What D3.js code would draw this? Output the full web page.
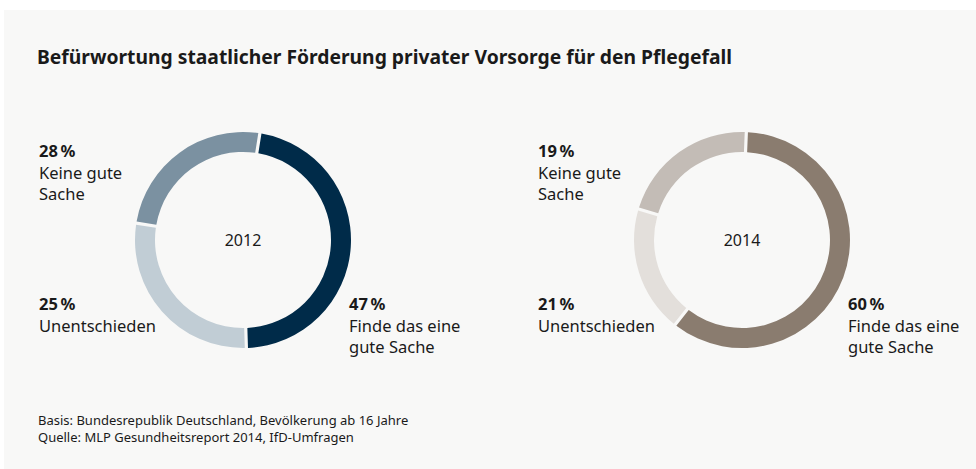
<!DOCTYPE html>
<html>
<head>
<meta charset="utf-8">
<script src="https://cdn.jsdelivr.net/npm/d3@7"></script>
<style>
  body { margin: 0; background: #ffffff; }
  svg { display: block; font-family: "Noto Sans", sans-serif; }
</style>
</head>
<body>
<div id="chart"></div>
<script>
// data
var years = ["2012", "2014"];
var categories = ["Finde das eine gute Sache", "Keine gute Sache", "Unentschieden"];
var values2012 = [47, 28, 25];
var values2014 = [60, 19, 21];
var labelLines = [["Finde das eine", "gute Sache"], ["Keine gute", "Sache"], ["Unentschieden"]];
var colors2012 = ["#002b49", "#c1cdd5", "#7b91a1"];
var colors2014 = ["#8a7c6f", "#e3dfdb", "#c3bcb6"];

var title = "Befürwortung staatlicher Förderung privater Vorsorge für den Pflegefall";
var notes = ["Basis: Bundesrepublik Deutschland, Bevölkerung ab 16 Jahre",
             "Quelle: MLP Gesundheitsreport 2014, IfD-Umfragen"];

var svgWidth = 976;
var svgHeight = 469;

var svg = d3.select("#chart")
    .append("svg")
    .attr("width", svgWidth)
    .attr("height", svgHeight);

// grey panel
svg.append("rect")
    .attr("x", 4)
    .attr("y", 10)
    .attr("width", svgWidth - 4)
    .attr("height", svgHeight - 10)
    .attr("fill", "#f8f8f7");

svg.append("text")
    .attr("x", 37)
    .attr("y", 64)
    .style("font-size", "19.3px")
    .style("font-weight", "bold")
    .attr("fill", "#1a1a1a")
    .text(title);

// one donut per year
var charts = [
    { year: years[0], values: values2012, colors: colors2012, cx: 243, rot: 9 },
    { year: years[1], values: values2014, colors: colors2014, cx: 742, rot: 2.3 }
];
var cy = 240;
var outerR = 108;
var innerR = 88;

var arc = d3.arc()
    .innerRadius(innerR)
    .outerRadius(outerR)
    .padAngle(3.2 / 98)
    .padRadius(98);

charts.forEach(function(c) {
    var start = c.rot * Math.PI / 180;
    var pie = d3.pie()
        .sort(null)
        .startAngle(start)
        .endAngle(start + 2 * Math.PI);

    var g = svg.append("g")
        .attr("transform", "translate(" + c.cx + "," + cy + ")");

    g.selectAll("path")
        .data(pie(c.values))
        .enter()
        .append("path")
        .attr("d", arc)
        .attr("fill", function(d, i) { return c.colors[i]; });

    g.append("text")
        .attr("text-anchor", "middle")
        .attr("dy", "0.35em")
        .style("font-size", "16px")
        .attr("fill", "#1a1a1a")
        .text(c.year);

    // label anchors: finde right-bottom, keine top-left, unentschieden bottom-left
    var spots = [
        { x: c.cx + 106, y: 310 },
        { x: c.cx - 204, y: 157 },
        { x: c.cx - 204, y: 310 }
    ];

    categories.forEach(function(cat, i) {
        var t = svg.append("text")
            .attr("x", spots[i].x)
            .attr("y", spots[i].y)
            .style("font-size", "16.5px")
            .attr("fill", "#1a1a1a");
        t.append("tspan")
            .attr("x", spots[i].x)
            .style("font-weight", "bold")
            .text(c.values[i] + "\u202F%");
        labelLines[i].forEach(function(line) {
            t.append("tspan")
                .attr("x", spots[i].x)
                .attr("dy", 21.5)
                .text(line);
        });
    });
});

svg.selectAll(".note")
    .data(notes)
    .enter()
    .append("text")
    .attr("class", "note")
    .attr("x", 38)
    .attr("y", function(d, i) { return 425 + i * 17; })
    .style("font-size", "13px")
    .attr("fill", "#1a1a1a")
    .text(function(d) { return d; });
</script>
</body>
</html>
